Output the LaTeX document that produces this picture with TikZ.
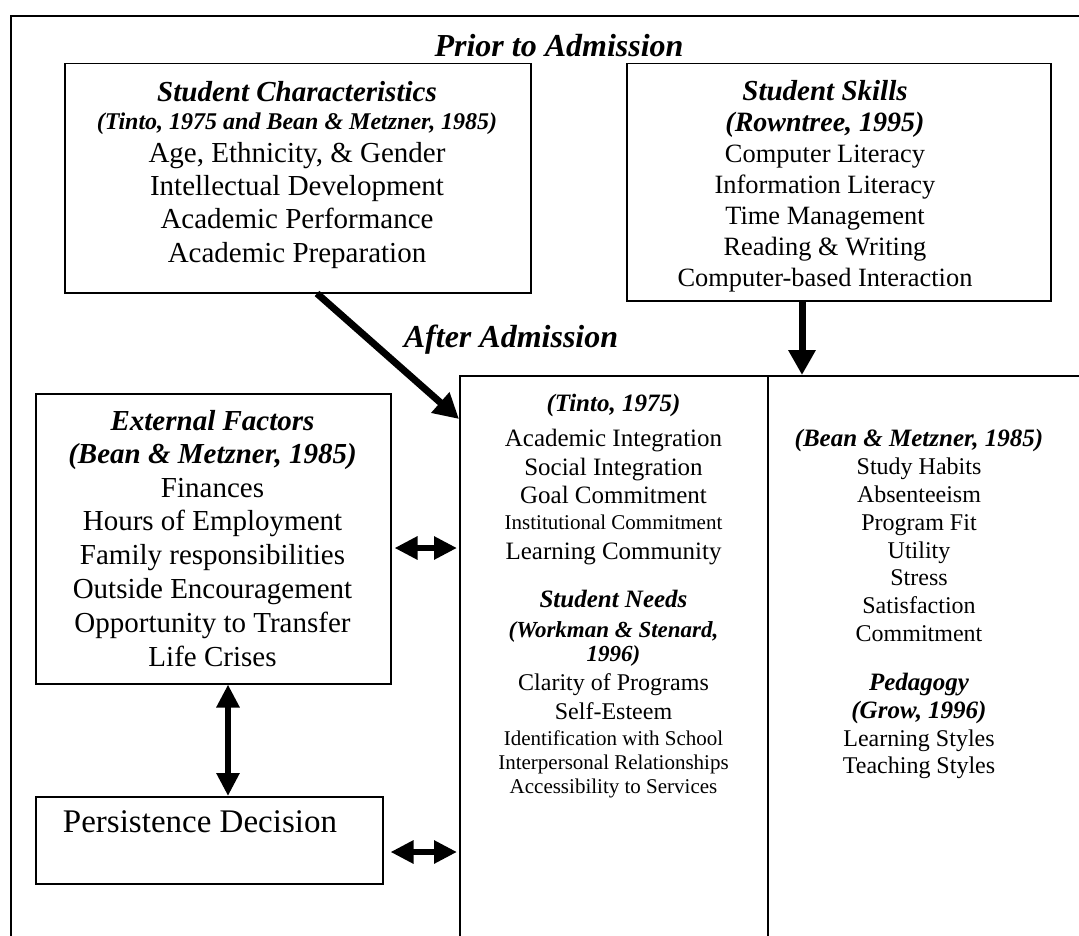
\documentclass[tikz,border=0pt]{standalone}
\usepackage{fontspec}
\setmainfont{Liberation Serif}
\usetikzlibrary{arrows.meta}
\begin{document}
\begin{tikzpicture}[x=1pt,y=-1pt,
  box/.style={draw, line width=1.5pt, inner sep=0pt, anchor=north west},
  bi/.style={font=\fontsize{#1}{#1}\selectfont\bfseries\itshape, anchor=base, inner sep=0pt},
  tx/.style={font=\fontsize{#1}{#1}\selectfont, anchor=base, inner sep=0pt},
  bigarrow/.style={line width=7pt, -{Triangle[length=25pt,width=26pt]}},
  dblarrow/.style={line width=6pt, {Triangle[length=23pt,width=22pt]}-{Triangle[length=23pt,width=22pt]}},
]
\useasboundingbox (0,0) rectangle (1079,936);
\fill[white] (0,0) rectangle (1079,936);
\clip (0,0) rectangle (1079,936);

% outer frame and the boxes
\node[box, line width=1.8pt, minimum width=1200pt, minimum height=1100pt] (outer) at (10,15) {};
\node[box, minimum width=466pt, minimum height=229pt] (chars) at (64,63) {};
\node[box, minimum width=424pt, minimum height=237pt] (skills) at (626,63) {};
\node[box, minimum width=355pt, minimum height=290pt] (ext) at (35,393) {};
\node[box, minimum width=347pt, minimum height=87pt] (pers) at (35,796) {};
\node[box, line width=1.8pt, minimum width=800pt, minimum height=800pt] (after) at (459,375) {};
\coordinate (div) at (768,0);
\draw[line width=1.8pt] (after.north -| div) -- (after.south -| div);

% section titles
\node[bi=32] (prior) at (559,57) {Prior to Admission};
\node[bi=32] (afterlbl) at (511,347) {After Admission};

% student characteristics
\node[bi=29] (c1) at (297,102) {Student Characteristics};
\node[bi=24] (c2) at (297,130) {(Tinto, 1975 and Bean \& Metzner, 1985)};
\node[tx=29] (c3) at (297,163) {Age, Ethnicity, \& Gender};
\node[tx=29] (c4) at (297,196) {Intellectual Development};
\node[tx=29] (c5) at (297,229) {Academic Performance};
\node[tx=29] (c6) at (297,262) {Academic Preparation};

% student skills
\node[bi=29] (s1) at (825,101) {Student Skills};
\node[bi=28] (s2) at (825,132) {(Rowntree, 1995)};
\node[tx=26.4] (s3) at (825,163) {Computer Literacy};
\node[tx=26.4] (s4) at (825,194) {Information Literacy};
\node[tx=26.4] (s5) at (825,224.5) {Time Management};
\node[tx=26.4] (s6) at (825,255) {Reading \& Writing};
\node[tx=26.4] (s7) at (825,286) {Computer-based Interaction};

% external factors
\node[bi=29] (e1) at (212.5,430) {External Factors};
\node[bi=29] (e2) at (212.5,463) {(Bean \& Metzner, 1985)};
\node[tx=29] (e3) at (212.5,497) {Finances};
\node[tx=29] (e4) at (212.5,530) {Hours of Employment};
\node[tx=29] (e5) at (212.5,564) {Family responsibilities};
\node[tx=29] (e6) at (212.5,598) {Outside Encouragement};
\node[tx=29] (e7) at (212.5,632) {Opportunity to Transfer};
\node[tx=29] (e8) at (212.5,666) {Life Crises};

% persistence decision
\node[tx=33] (p1) at (200,832) {Persistence Decision};

% integration and needs column
\node[bi=25] (t1) at (613.5,411) {(Tinto, 1975)};
\node[tx=25] (t2) at (613.5,446) {Academic Integration};
\node[tx=25] (t3) at (613.5,475) {Social Integration};
\node[tx=25] (t4) at (613.5,503) {Goal Commitment};
\node[tx=21] (t5) at (613.5,529) {Institutional Commitment};
\node[tx=25] (t6) at (613.5,559) {Learning Community};
\node[bi=25] (n1) at (613.5,607) {Student Needs};
\node[bi=23] (n2) at (613.5,637) {(Workman \& Stenard,};
\node[bi=23] (n3) at (613.5,661) {1996)};
\node[tx=24] (n4) at (613.5,690) {Clarity of Programs};
\node[tx=24] (n5) at (613.5,719) {Self-Esteem};
\node[tx=21] (n6) at (613.5,745) {Identification with School};
\node[tx=21] (n7) at (613.5,769) {Interpersonal Relationships};
\node[tx=21] (n8) at (613.5,793) {Accessibility to Services};

% habits and pedagogy column
\node[bi=25] (b1) at (919,446) {(Bean \& Metzner, 1985)};
\node[tx=24] (b2) at (919,474) {Study Habits};
\node[tx=24] (b3) at (919,502) {Absenteeism};
\node[tx=24] (b4) at (919,530) {Program Fit};
\node[tx=24] (b5) at (919,558) {Utility};
\node[tx=24] (b6) at (919,585) {Stress};
\node[tx=24] (b7) at (919,613) {Satisfaction};
\node[tx=24] (b8) at (919,641) {Commitment};
\node[bi=25] (g1) at (919,690) {Pedagogy};
\node[bi=25] (g2) at (919,718) {(Grow, 1996)};
\node[tx=24] (g3) at (919,746) {Learning Styles};
\node[tx=24] (g4) at (919,773) {Teaching Styles};

% connectors
\coordinate (skx) at (802,0);
\coordinate (dgx) at (317,0);
\coordinate (dgy) at (0,419);
\coordinate (h1y) at (0,548);
\coordinate (h2y) at (0,852);
\coordinate (vx) at (228,0);
\draw[bigarrow] (skills.south -| skx) -- (after.north -| skx);
\draw[bigarrow] (chars.south -| dgx) -- (after.west |- dgy);
\draw[dblarrow, shorten <=3pt, shorten >=2pt] (ext.east |- h1y) -- (after.west |- h1y);
\draw[dblarrow, shorten <=7pt, shorten >=2pt] (pers.east |- h2y) -- (after.west |- h2y);
\draw[dblarrow] (ext.south -| vx) -- (pers.north -| vx);
\end{tikzpicture}
\end{document}
